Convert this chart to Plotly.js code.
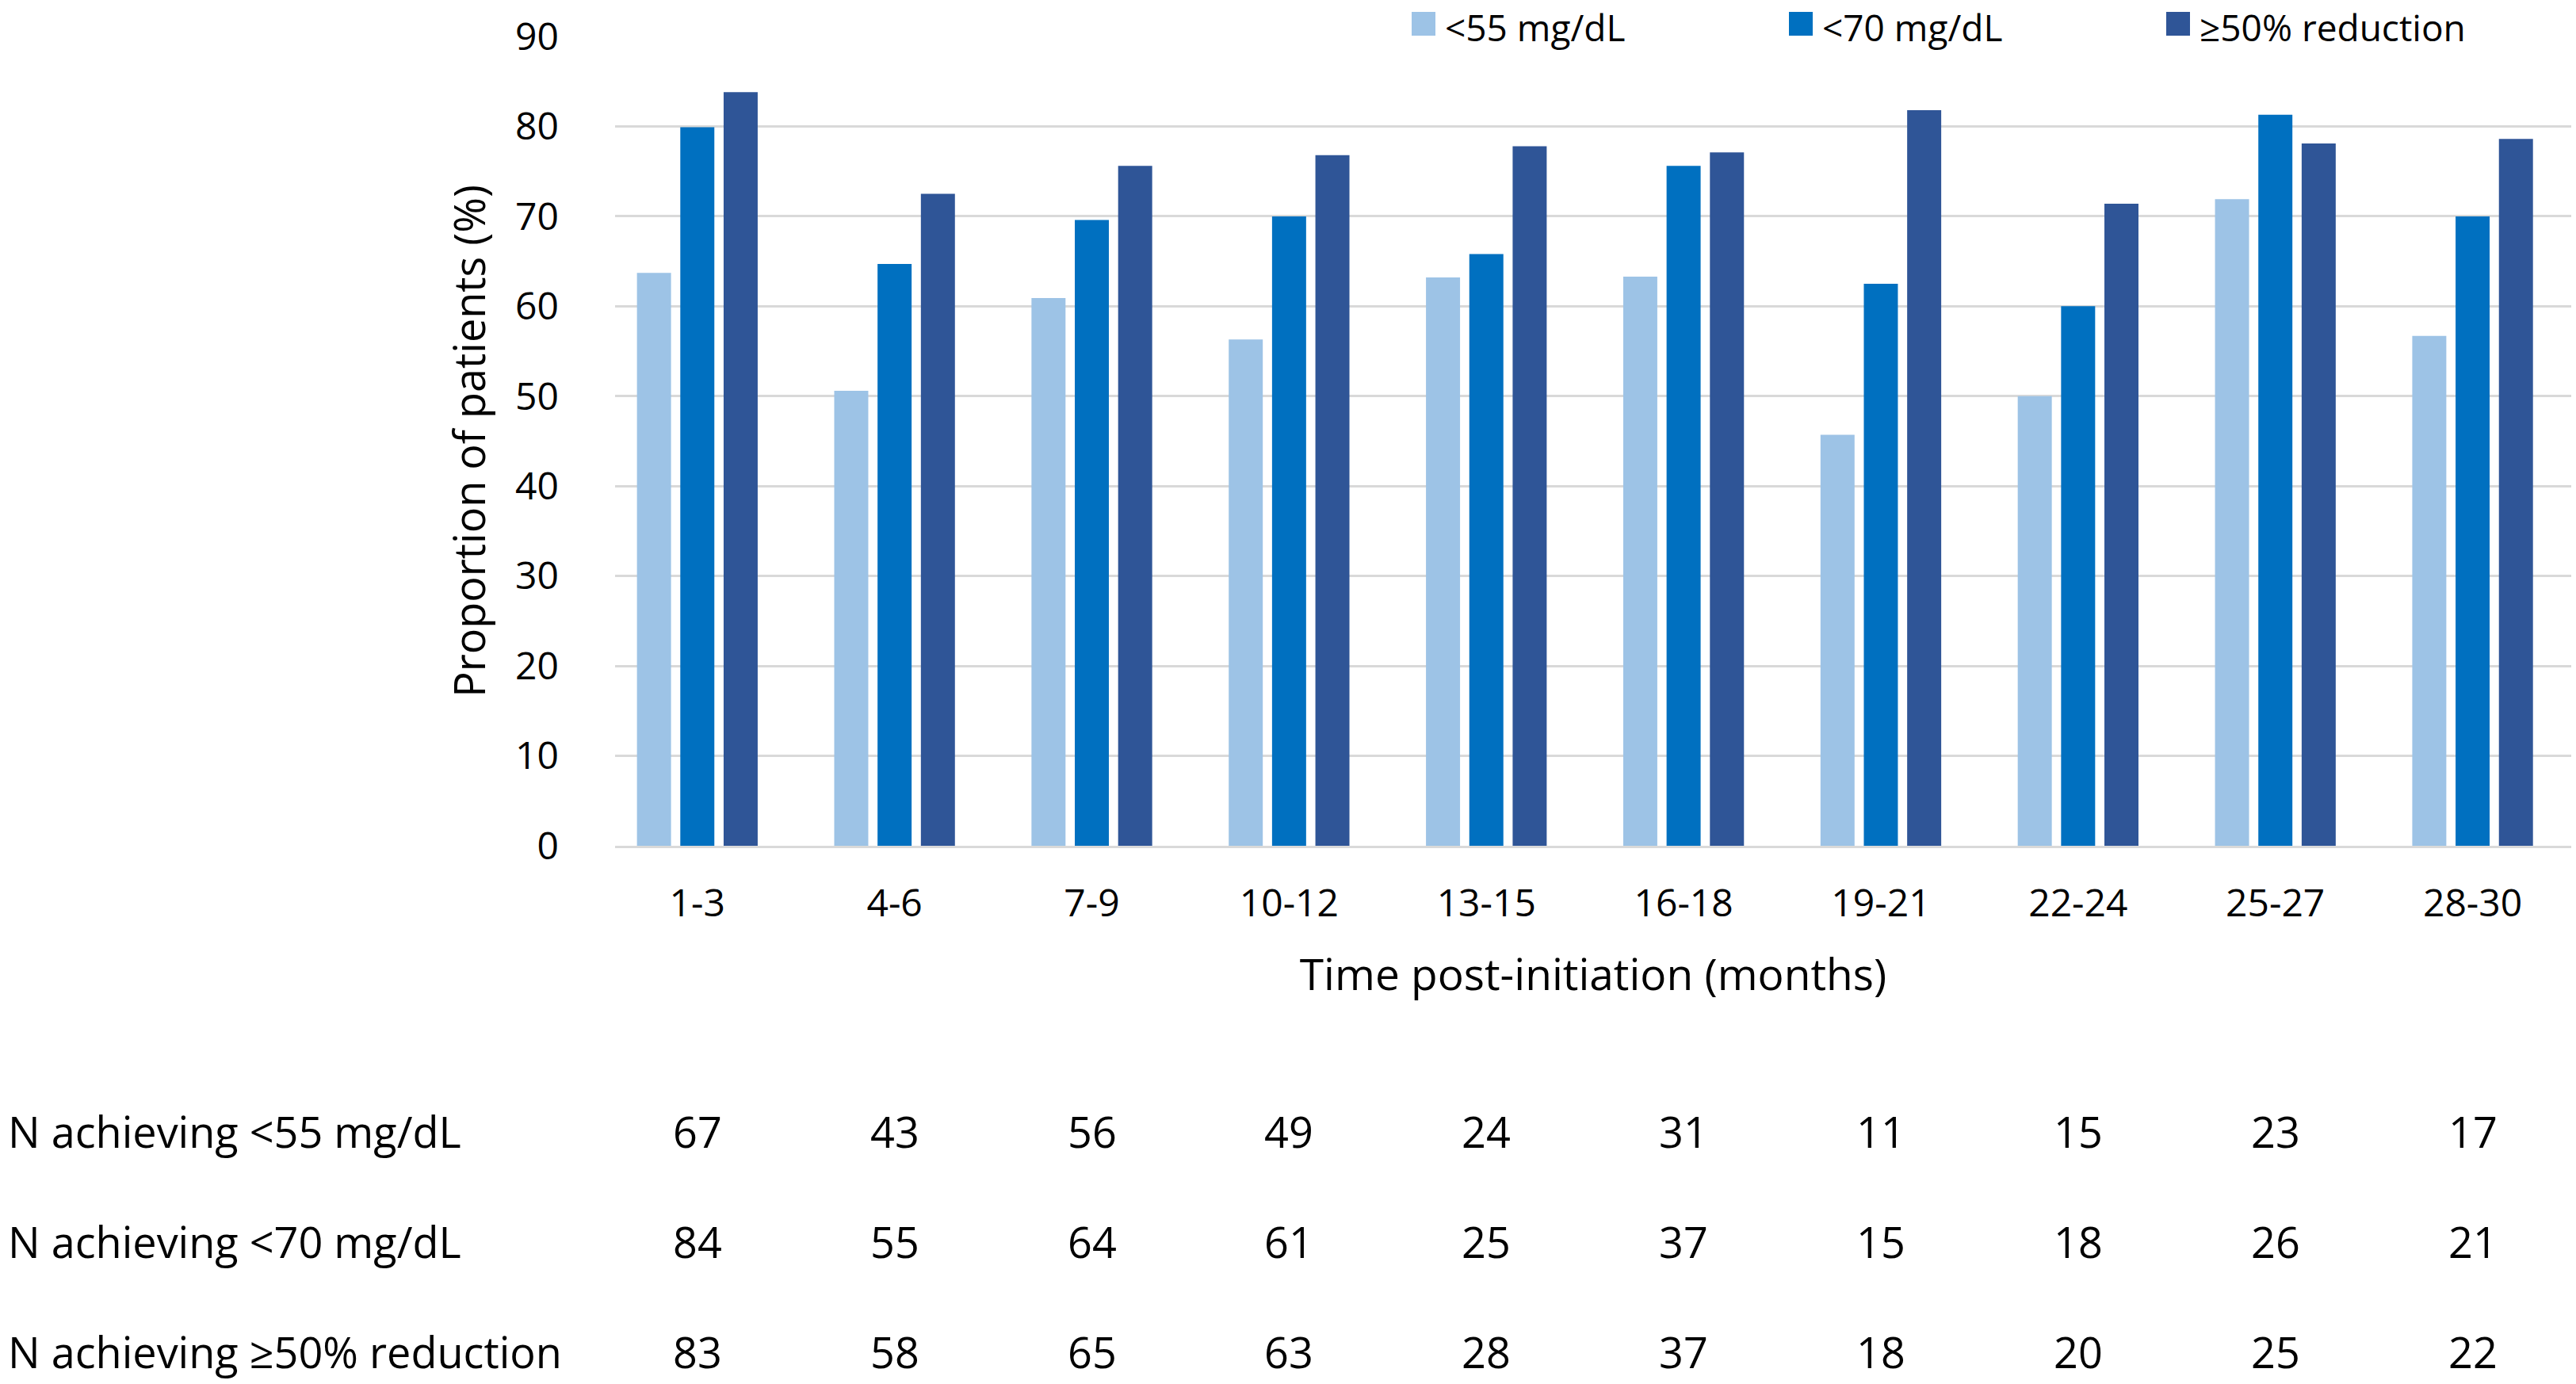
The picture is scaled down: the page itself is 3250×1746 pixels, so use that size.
<!DOCTYPE html>
<html>
<head>
<meta charset="utf-8">
<script src="https://cdn.plot.ly/plotly-3.0.1.min.js"></script>
<style>
  html, body { margin: 0; padding: 0; background: #ffffff; }
  #chart { width: 3250px; height: 1746px; }
</style>
</head>
<body>
<div id="chart"></div>
<script>
// ---- data ----
const categories = ['1-3', '4-6', '7-9', '10-12', '13-15', '16-18', '19-21', '22-24', '25-27', '28-30'];
const seriesNames = ['<55 mg/dL', '<70 mg/dL', '\u226550% reduction'];
const below55 = [63.7, 50.6, 60.9, 56.3, 63.2, 63.3, 45.7, 50.0, 71.9, 56.7];
const below70 = [79.9, 64.7, 69.6, 70.0, 65.8, 75.6, 62.5, 60.0, 81.3, 70.0];
const reduction50 = [83.8, 72.5, 75.6, 76.8, 77.8, 77.1, 81.8, 71.4, 78.1, 78.6];
const yTickVals = [0, 10, 20, 30, 40, 50, 60, 70, 80, 90];
const rowLabels = ['N achieving <55 mg/dL', 'N achieving <70 mg/dL', 'N achieving \u226550% reduction'];
const nBelow55 = [67, 43, 56, 49, 24, 31, 11, 15, 23, 17];
const nBelow70 = [84, 55, 64, 61, 25, 37, 15, 18, 26, 21];
const nReduction50 = [83, 58, 65, 63, 28, 37, 18, 20, 25, 22];

// ---- styles ----
const colors = ['#9DC3E6', '#0070C0', '#2F5597'];
const FONT = '"Open Sans", "Noto Sans", sans-serif';
const seriesValues = [below55, below70, reduction50];
const tableRows = [nBelow55, nBelow70, nReduction50];

const traces = seriesValues.map((vals, i) => ({
  type: 'bar',
  name: seriesNames[i],
  x: categories,
  y: vals,
  marker: { color: colors[i], line: { width: 0 } },
  showlegend: false,
  hoverinfo: 'skip'
}));

// layout geometry (pixels)
const W = 3250, H = 1746;
const mL = 776, mR = 6, mT = 46, mB = 679;
const plotW = W - mL - mR, plotH = H - mT - mB;
const px2x = px => (px - mL) / plotW;
const py2y = py => (H - mB - py) / plotH;

// manual legend (large square keys like the original)
const legendKeyX = [1781, 2257, 2733];
const keySize = 30;
const legendKeyTop = 15;
const shapes = [];
const annotations = [];

// white legend background hiding the top gridline, as in the original
shapes.push({
  type: 'rect', xref: 'paper', yref: 'paper', layer: 'above',
  x0: px2x(1587), x1: 1.01, y0: py2y(60), y1: py2y(0),
  fillcolor: '#ffffff', line: { width: 0 }
});
seriesNames.forEach((name, i) => {
  shapes.push({
    type: 'rect', xref: 'paper', yref: 'paper', layer: 'above',
    x0: px2x(legendKeyX[i]), x1: px2x(legendKeyX[i] + keySize),
    y0: py2y(legendKeyTop + keySize), y1: py2y(legendKeyTop),
    fillcolor: colors[i], line: { width: 0 }
  });
  annotations.push({
    xref: 'paper', yref: 'paper', x: px2x(legendKeyX[i] + keySize + 10), y: py2y(1),
    xanchor: 'left', yanchor: 'top', showarrow: false,
    text: name, font: { family: FONT, size: 46, color: '#000000' }
  });
});

// table of N below the chart
const rowY = [1427, 1566, 1705];
rowLabels.forEach((lab, r) => {
  annotations.push({
    xref: 'paper', yref: 'paper', x: px2x(8), y: py2y(rowY[r]),
    xanchor: 'left', yanchor: 'middle', showarrow: false,
    text: lab, font: { family: FONT, size: 54, color: '#000000' }
  });
  tableRows[r].forEach((n, c) => {
    annotations.push({
      xref: 'x', yref: 'paper', x: categories[c], y: py2y(rowY[r]),
      xanchor: 'center', yanchor: 'middle', showarrow: false,
      text: String(n), font: { family: FONT, size: 54, color: '#000000' }
    });
  });
});

const layout = {
  width: W, height: H,
  margin: { l: mL, r: mR, t: mT, b: mB, pad: 0 },
  paper_bgcolor: '#ffffff', plot_bgcolor: '#ffffff',
  font: { family: FONT, color: '#000000' },
  barmode: 'group',
  bargap: 0.341,
  bargroupgap: 0.214,
  showlegend: false,
  xaxis: {
    type: 'category',
    range: [-0.417, 9.5],
    showgrid: false,
    zeroline: false,
    showline: true, linecolor: '#D9D9D9', linewidth: 3,
    ticks: '',
    ticklabelstandoff: 28,
    tickfont: { family: FONT, size: 48, color: '#000000' },
    title: { text: 'Time post-initiation (months)', font: { family: FONT, size: 55, color: '#000000' }, standoff: 42 },
    automargin: false,
    fixedrange: true
  },
  yaxis: {
    range: [0, 90],
    tickvals: yTickVals,
    ticktext: yTickVals.map(String),
    showgrid: true, gridcolor: '#D9D9D9', gridwidth: 3,
    zeroline: false,
    showline: false,
    ticks: '',
    ticklabelstandoff: 70,
    tickfont: { family: FONT, size: 48, color: '#000000' },
    title: { text: 'Proportion of patients (%)', font: { family: FONT, size: 54, color: '#000000' }, standoff: 20 },
    automargin: false,
    fixedrange: true
  },
  shapes: shapes,
  annotations: annotations
};

Plotly.newPlot('chart', traces, layout, { displayModeBar: false, staticPlot: true });
</script>
</body>
</html>
